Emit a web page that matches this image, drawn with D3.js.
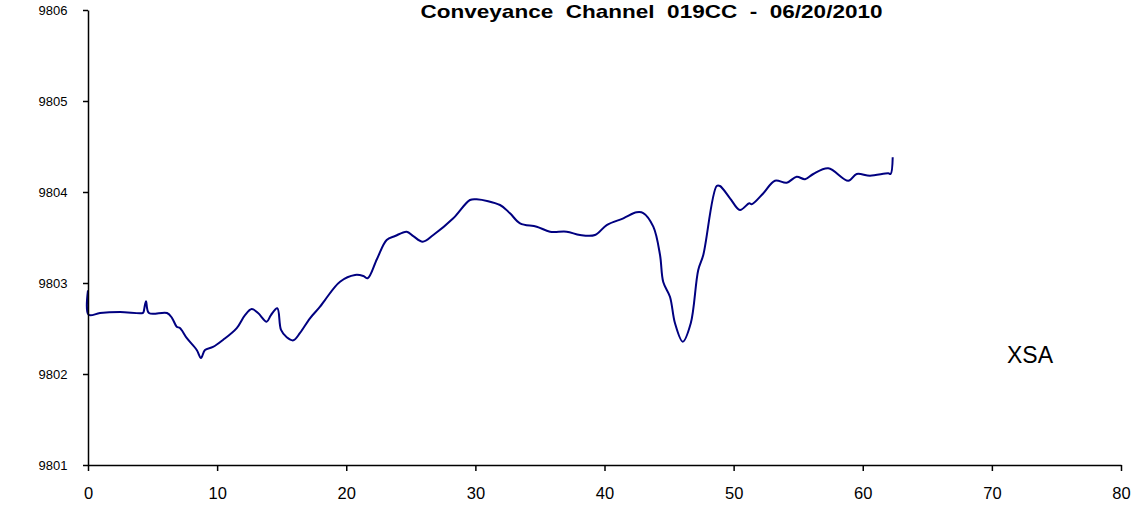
<!DOCTYPE html>
<html><head><meta charset="utf-8">
<script src="https://cdn.jsdelivr.net/npm/d3@7"></script>
<style>body{margin:0;background:#fff}svg{display:block;font-family:"Liberation Sans",Arial,sans-serif}</style>
</head><body><div id="chart"></div>
<script>
const title = "Conveyance  Channel  019CC  -  06/20/2010";
const seriesLabel = "XSA";
const xTicks = [0,10,20,30,40,50,60,70,80];
const yTicks = [9801,9802,9803,9804,9805,9806];
const stations = [0,0.05,0.93,2.48,4.24,4.30,4.49,4.72,6.12,6.51,6.87,7.12,7.64,8.42,8.75,9.06,9.68,10.45,11.52,12.16,12.68,13.17,13.84,14.17,14.66,14.95,15.39,15.90,16.42,17.19,17.97,18.35,19.52,20.68,21.32,21.66,22.38,23.13,23.78,24.68,25.19,25.92,26.74,28.29,29.58,30.10,31.91,32.68,33.46,34.75,35.78,37.07,38.10,39.26,40.17,41.46,42.49,43.00,43.78,44.30,44.55,45.07,45.46,46.06,46.68,47.26,47.65,48.69,48.94,49.72,50.49,51.21,51.40,52.30,53.20,54.11,54.88,55.53,56.17,57.33,58.88,59.53,60.56,61.98,62.16,62.32];
const elevations = [9802.92,9802.65,9802.67,9802.68,9802.67,9802.68,9802.80,9802.67,9802.67,9802.615,9802.52,9802.505,9802.396,9802.264,9802.176,9802.264,9802.297,9802.374,9802.505,9802.648,9802.714,9802.670,9802.575,9802.648,9802.722,9802.484,9802.403,9802.370,9802.451,9802.612,9802.740,9802.813,9803.014,9803.088,9803.077,9803.052,9803.264,9803.473,9803.516,9803.564,9803.516,9803.454,9803.527,9803.711,9803.912,9803.920,9803.857,9803.766,9803.656,9803.619,9803.564,9803.564,9803.527,9803.527,9803.637,9803.711,9803.777,9803.769,9803.619,9803.308,9803.011,9802.849,9802.557,9802.355,9802.557,9803.143,9803.308,9804.066,9804.066,9803.931,9803.802,9803.876,9803.865,9803.986,9804.124,9804.102,9804.168,9804.140,9804.198,9804.260,9804.124,9804.198,9804.179,9804.205,9804.198,9804.381];

const W=1140,H=514;
const svg=d3.select("#chart").append("svg").attr("width",W).attr("height",H);
const x=d3.scaleLinear().domain([0,80]).range([88,1121]);
const y=d3.scaleLinear().domain([9801,9806]).range([465,10]);

const data=stations.map((s,i)=>({x:s,y:elevations[i]}));
svg.append("path").datum(data)
  .attr("fill","none").attr("stroke","#000080").attr("stroke-width",2)
  .attr("d",d3.line().x(d=>x(d.x)).y(d=>y(d.y)).curve(d3.curveCatmullRom.alpha(0.5)));

const xa=svg.append("g").attr("transform","translate(0,465)")
  .call(d3.axisBottom(x).tickValues(xTicks).tickSize(6).tickPadding(16).tickSizeOuter(0));
xa.selectAll("text").attr("font-size",16.5).attr("font-family","Liberation Sans, Arial, sans-serif").attr("fill","#000");
const ya=svg.append("g").attr("transform","translate(88,0)")
  .call(d3.axisLeft(y).tickValues(yTicks).tickFormat(d3.format("d")).tickSize(5).tickPadding(15.5).tickSizeOuter(0));
ya.selectAll("text").attr("font-size",13).attr("font-family","Liberation Sans, Arial, sans-serif").attr("fill","#000");
svg.selectAll(".domain,.tick line").attr("stroke","#000").attr("stroke-width",1.5);

svg.append("text").attr("x",651.5).attr("y",18).attr("text-anchor","middle")
  .style("white-space","pre")
  .attr("textLength",462).attr("lengthAdjust","spacingAndGlyphs")
  .attr("font-size",19).attr("font-weight","bold").text(title);
svg.append("text").attr("x",1030).attr("y",363).attr("text-anchor","middle")
  .attr("font-size",23).text(seriesLabel);
</script></body></html>
